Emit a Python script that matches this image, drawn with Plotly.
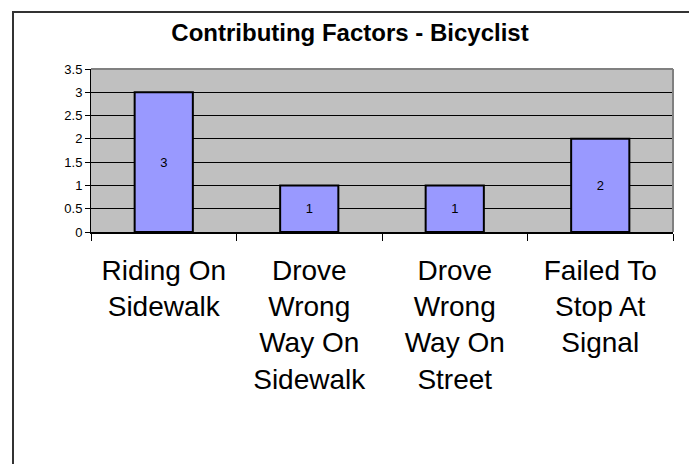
import plotly.graph_objects as go

categories = [
    "Riding On<br>Sidewalk",
    "Drove<br>Wrong<br>Way On<br>Sidewalk",
    "Drove<br>Wrong<br>Way On<br>Street",
    "Failed To<br>Stop At<br>Signal",
]
counts = [3, 1, 1, 2]
y_ticks = [0, 0.5, 1, 1.5, 2, 2.5, 3, 3.5]

FONT = "Arial, Liberation Sans, sans-serif"

fig = go.Figure(go.Bar(
    x=categories,
    y=counts,
    text=[str(v) for v in counts],
    textposition="inside",
    insidetextanchor="middle",
    textfont=dict(family=FONT, size=13, color="black"),
    textangle=0,
    marker=dict(color="#9999FF", line=dict(color="black", width=2)),
    width=0.4,
))

# the page body adds an 8px offset, so margins are shifted to compensate
fig.update_layout(
    width=697, height=464,
    margin=dict(l=83, r=32, t=61, b=240),
    paper_bgcolor="white",
    plot_bgcolor="#C0C0C0",
    showlegend=False,
    uniformtext=dict(minsize=13, mode="show"),
    title=dict(
        text="<b>Contributing Factors - Bicyclist</b>",
        font=dict(family=FONT, size=24, color="black"),
        x=(350 - 8) / 697, xanchor="center", xref="container",
        y=1 - 25 / 464, yanchor="middle", yref="container",
    ),
    font=dict(family=FONT, color="black"),
)

fig.update_yaxes(
    range=[0, 3.5],
    tickvals=y_ticks,
    ticktext=[f"{v:g}" for v in y_ticks],
    showgrid=True, gridcolor="black", gridwidth=1,
    showline=True, linecolor="black", linewidth=1,
    zeroline=False,
    ticks="outside", ticklen=5, tickcolor="black",
    tickfont=dict(family=FONT, size=13, color="black"),
    fixedrange=True,
)

fig.update_xaxes(
    showline=True, linecolor="black", linewidth=2,
    ticks="outside", tickson="boundaries", ticklen=7, tickcolor="black",
    tickfont=dict(family=FONT, size=28, color="black"),
    ticklabelstandoff=12,
    tickangle=0,
    showgrid=False,
    fixedrange=True,
)

# gray plot-area border on top and right, outer chart frame
fig.add_shape(type="line", xref="paper", yref="paper", x0=0, x1=1, y0=1, y1=1,
              line=dict(color="#808080", width=2))
fig.add_shape(type="line", xref="paper", yref="paper", x0=1, x1=1, y0=0, y1=1,
              line=dict(color="#808080", width=2))
fig.add_shape(type="rect", xref="paper", yref="paper",
              x0=(13 - 91) / 582, x1=(692 - 91) / 582,
              y0=(232 - 480) / 163, y1=(232 - 12) / 163,
              line=dict(color="#333333", width=2), layer="above")

fig.write_html("out.html")
